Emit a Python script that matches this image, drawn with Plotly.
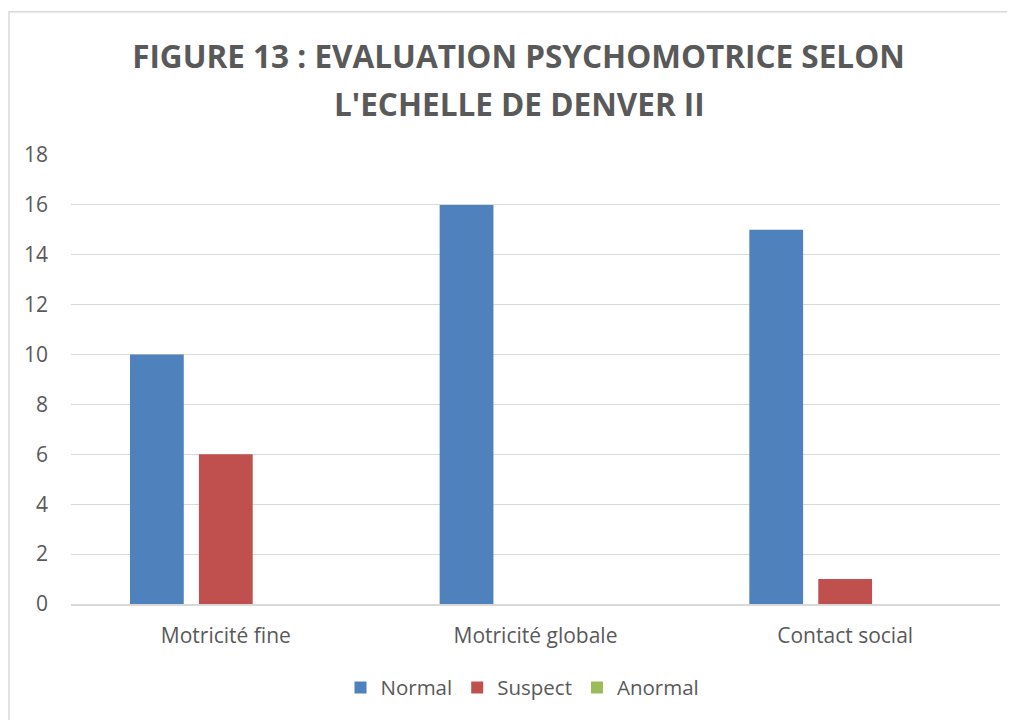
import plotly.graph_objects as go

CATEGORIES = ["Motricité fine", "Motricité globale", "Contact social"]
NORMAL = [10, 16, 15]
SUSPECT = [6, 0, 1]
ANORMAL = [0, 0, 0]
Y_TICKS = list(range(0, 19, 2))

COLORS = {
    "Normal": "#4F81BD",
    "Suspect": "#C0504D",
    "Anormal": "#9BBB59",
}
TEXT = "#595959"
GRID = "#D9D9D9"
FONT = "Open Sans"

# page body has an 8px margin, so the figure is sized to fill the rest
W, H = 1007, 712
L, R, T, B = 63, 15, 147, 114
PW, PH = W - L - R, H - T - B


def px_x(x):
    return (x - L) / PW


def px_y(y):
    return (H - B - y) / PH


fig = go.Figure()
for name, vals in [("Normal", NORMAL), ("Suspect", SUSPECT), ("Anormal", ANORMAL)]:
    fig.add_trace(go.Bar(
        x=CATEGORIES, y=vals, name=name,
        marker=dict(color=COLORS[name], line=dict(width=0)),
    ))

title_font = dict(family=FONT, size=31.5, color=TEXT, weight="bold")

fig.update_layout(
    width=W, height=H,
    paper_bgcolor="white", plot_bgcolor="white",
    margin=dict(l=L, r=R, t=T, b=B),
    barmode="group", bargap=0.332, bargroupgap=0.22,
    font=dict(family=FONT, color=TEXT, size=20),
    title=dict(
        text="FIGURE 13 : EVALUATION PSYCHOMOTRICE SELON",
        x=510.5 / W, xanchor="center", xref="container",
        y=1 - 49 / H, yanchor="middle", yref="container",
        font=title_font,
    ),
    annotations=[dict(
        text="L'ECHELLE DE DENVER II",
        xref="paper", yref="paper",
        x=px_x(511), y=px_y(95), xanchor="center", yanchor="middle",
        showarrow=False, font=title_font,
    )],
    legend=dict(
        orientation="h", x=px_x(514.5), xanchor="center",
        y=px_y(682), yanchor="middle",
        font=dict(size=20.5, color=TEXT),
        itemwidth=30, traceorder="normal",
    ),
    shapes=[dict(
        type="rect", xref="paper", yref="paper",
        x0=px_x(1), x1=px_x(W + 20),
        y0=px_y(H + 20), y1=px_y(3),
        line=dict(color="#D9D9D9", width=1.5), fillcolor="rgba(0,0,0,0)",
        layer="below",
    )],
)
fig.update_xaxes(
    showgrid=False, showline=True, linecolor=GRID, linewidth=1.5,
    ticks="", ticklabelstandoff=12,
    tickfont=dict(size=21, color=TEXT),
)
fig.update_yaxes(
    range=[0, 18], tickvals=Y_TICKS, showgrid=True, gridcolor=GRID, gridwidth=1.3,
    zeroline=False, showline=False, ticks="", ticklabelstandoff=22,
    tickfont=dict(size=21, color=TEXT),
)

fig.write_html("out.html")
